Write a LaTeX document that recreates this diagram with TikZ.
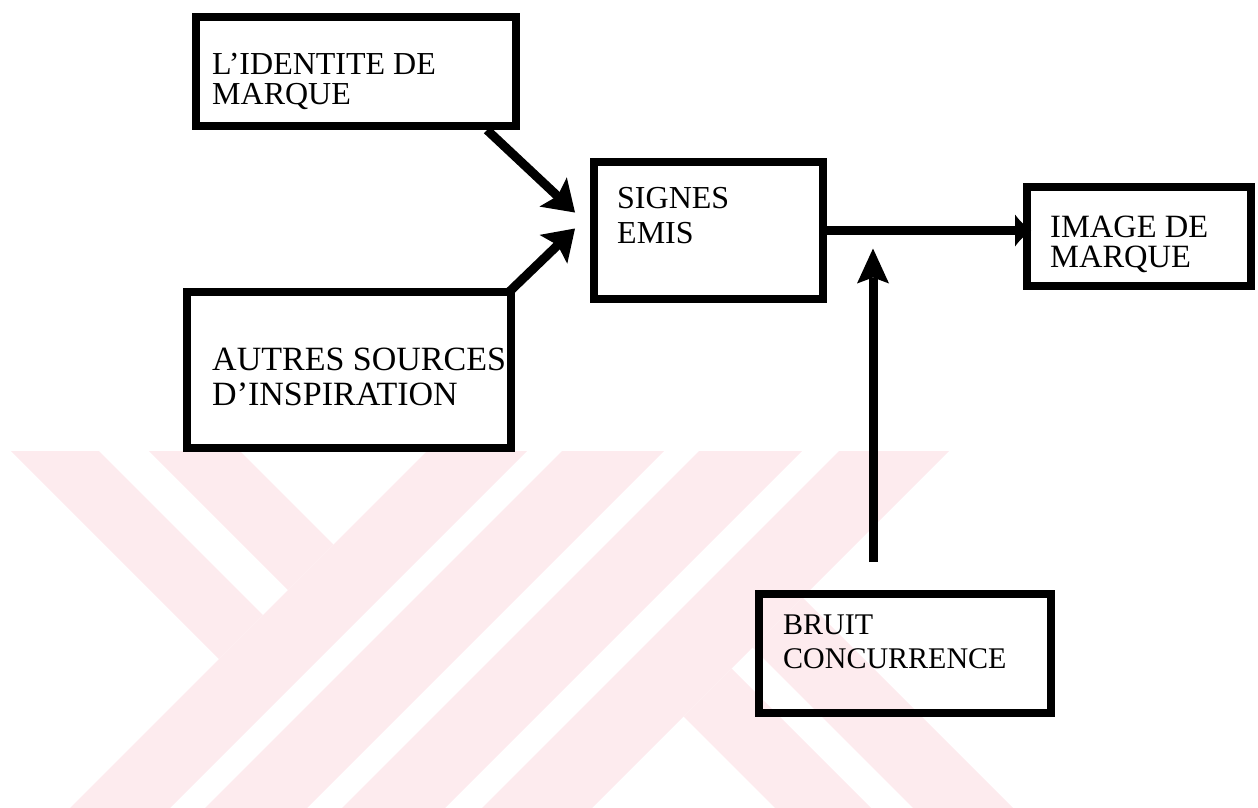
\documentclass[tikz,border=0pt]{standalone}
\usepackage{fontspec}
\setmainfont{Liberation Serif}
\usetikzlibrary{arrows.meta,calc}
\definecolor{wm}{RGB}{253,235,238}
\begin{document}
\begin{tikzpicture}[x=1pt,y=-1pt,
  box/.style={draw=black, line width=8pt, rectangle, inner sep=0pt},
  lbl/.style={anchor=base west, inner sep=0pt, align=left},
  conn/.style={line width=9pt, draw=black},
  bighead/.style={-{Stealth[length=30pt,width=40pt,inset=6pt,line width=0pt]}},
]
\useasboundingbox (0,0) rectangle (1258,808);
% ---- watermark (background) ----
\fill[wm] (11,451) -- (99,451) -- (263,615) -- (219,659) -- cycle;
\fill[wm] (149,451) -- (240,451) -- (333.5,544.5) -- (288,590) -- cycle;
\fill[wm] (427,451) -- (527,451) -- (170,808) -- (70,808) -- cycle;
\fill[wm] (562,451) -- (664,451) -- (307,808) -- (205,808) -- cycle;
\fill[wm] (699,451) -- (802,451) -- (445,808) -- (342,808) -- cycle;
\fill[wm] (839,451) -- (949,451) -- (592,808) -- (482,808) -- cycle;
\fill[wm] (683.5,716.5) -- (731.5,668.5) -- (871,808) -- (775,808) -- cycle;
\fill[wm] (752.5,647.5) -- (802.5,597.5) -- (1013,808) -- (913,808) -- cycle;
% ---- boxes ----
\node[box, minimum width=320pt, minimum height=109pt] (B1) at (356,71.5) {};
\node[box, minimum width=324pt, minimum height=156pt] (B2) at (349,370) {};
\node[box, minimum width=229pt, minimum height=137pt] (B3) at (708.5,230.5) {};
\node[box, minimum width=224pt, minimum height=99pt] (B4) at (1139,236.5) {};
\node[box, minimum width=292pt, minimum height=119pt] (B5) at (905,653.5) {};
% ---- texts (anchor = baseline of the last line) ----
\node[lbl, font=\fontsize{32}{30}\selectfont] (T1) at (212,104) {L’IDENTITE DE\\MARQUE};
\node[lbl, font=\fontsize{34}{35}\selectfont] (T2) at (212,405) {AUTRES SOURCES\\D’INSPIRATION};
\node[lbl, font=\fontsize{32}{35}\selectfont] (T3) at (617,243) {SIGNES\\EMIS};
\node[lbl, font=\fontsize{32.5}{30}\selectfont] (T4) at (1050,267) {IMAGE DE\\MARQUE};
\node[lbl, font=\fontsize{30}{34}\selectfont] (T5) at (783,668) {BRUIT\\CONCURRENCE};
% ---- connector end points ----
\coordinate (s1) at ($(B1.south east)+(-33,0)$);
\coordinate (t1) at ($(B3.west)+(-15,-18)$);
\coordinate (s2) at ($(B2.north east)+(-7,5)$);
\coordinate (t2) at ($(B3.west)+(-15,-2)$);
\coordinate (t3) at ($(B3.east -| B4.west)+(8,0)$);
\coordinate (s4) at ($(B5.north west)+(118,-28)$);
\coordinate (t4) at ($(B3.east)+(46,18)$);
% ---- connectors ----
\draw[conn, bighead] (s1) -- (t1);
\draw[conn, bighead] (s2) -- (t2);
\draw[conn, -{Latex[length=16pt,width=32pt,line width=0pt]}] (B3.east) -- (t3);
\draw[conn, -{Stealth[length=35pt,width=32pt,inset=6pt,line width=0pt]}] (s4) -- (t4);
% redraw IMAGE box border over the arrow tip
\node[box, minimum width=224pt, minimum height=99pt] (B4b) at (B4.center) {};
\end{tikzpicture}
\end{document}
